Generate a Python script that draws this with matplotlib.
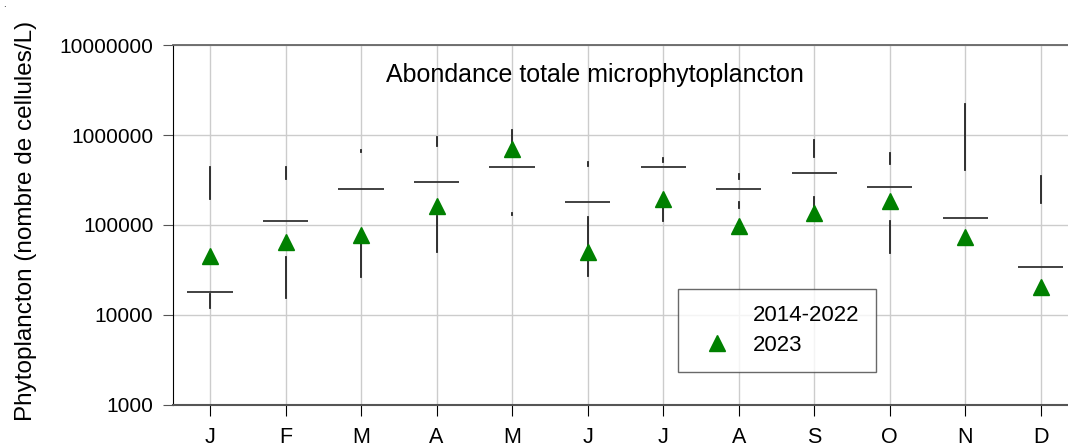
import matplotlib
matplotlib.use('Agg')
import matplotlib.pyplot as plt
from matplotlib.lines import Line2D

plt.rcParams['font.family'] = ['Liberation Sans', 'DejaVu Sans']

# mois et statistiques 2014-2022 (min, Q1, médiane, Q3, max)
months = ['J', 'F', 'M', 'A', 'M', 'J', 'J', 'A', 'S', 'O', 'N', 'D']
whislo = [12000, 15300, 26700, 50000, 130000, 27100, 110000, 153000, 140000, 49000, 110000, 34000]
q1 = [17300, 44000, 70000, 126000, 137000, 124000, 170000, 182000, 206000, 110000, 110000, 34000]
med = [18200, 110000, 253000, 303000, 444000, 180000, 441000, 251000, 378000, 264000, 120000, 34400]
q3 = [194000, 327000, 643000, 760000, 750000, 456000, 505000, 325000, 574000, 476000, 408000, 177000]
whishi = [437000, 444000, 676000, 942000, 1140000, 505000, 551000, 369000, 873000, 625000, 2210000, 348000]
# valeurs 2023
val_2023 = [45500, 64000, 77400, 164000, 705000, 49500, 194000, 97000, 136000, 185000, 73000, 20700]

stats = []
for i in range(len(months)):
    stats.append(dict(whislo=whislo[i], q1=q1[i], med=med[i], q3=q3[i], whishi=whishi[i]))

fig = plt.figure(figsize=(10.68, 4.47), dpi=100)
ax = fig.add_axes([173 / 1068, 1 - 405 / 447, 1 - 173 / 1068, 360 / 447])

pos = list(range(1, 13))
ax.bxp(stats, positions=pos, widths=0.6, showfliers=False, showcaps=False,
       boxprops=dict(linewidth=0),
       whiskerprops=dict(color='#222222', linewidth=1.3),
       medianprops=dict(color='#333333', linewidth=1.3))
ax.plot(pos, val_2023, linestyle='none', marker='^', color='#008000', markersize=12, zorder=5)

ax.set_yscale('log')
ax.set_ylim(1000, 10000000)
ax.set_xlim(0.51, 12.36)
ax.set_yticks([1000, 10000, 100000, 1000000, 10000000])
ax.set_yticklabels(['1000', '10000', '100000', '1000000', '10000000'])
ax.minorticks_off()
ax.set_xticks(pos)
ax.set_xticklabels(months)
ax.tick_params(axis='y', direction='out', length=7.2, color='#555555', labelsize=15, pad=7)
ax.tick_params(axis='x', direction='out', length=8, color='black', labelsize=15.5, pad=8)

ax.grid(True, color='#cccccc', linewidth=1)
ax.set_axisbelow(True)
ax.spines['right'].set_visible(False)
ax.spines['left'].set_color('black')
ax.spines['bottom'].set_color('#555555')
ax.spines['bottom'].set_linewidth(1.5)
ax.spines['top'].set_color('#666666')
ax.spines['top'].set_linewidth(1.3)

ax.set_ylabel('Phytoplancton (nombre de cellules/L)', fontsize=17.5)
ax.yaxis.set_label_coords(-0.152, 0.511)
ax.text(0.4715, 0.917, 'Abondance totale microphytoplancton', transform=ax.transAxes,
        ha='center', va='center', fontsize=18)

handles = [Line2D([], [], linestyle='none'),
           Line2D([], [], linestyle='none', marker='^', color='#008000', markersize=12)]
leg = ax.legend(handles, ['2014-2022', '2023'], loc='center', bbox_to_anchor=(0.675, 0.207),
                fontsize=16, frameon=True, fancybox=False, edgecolor='#444444',
                borderpad=0.73, labelspacing=0.4, handletextpad=0.64, handlelength=2.0)
leg.get_frame().set_linewidth(1)

fig.text(0.003, 0.985, '.', fontsize=7)

plt.savefig('out.png', dpi=100)
